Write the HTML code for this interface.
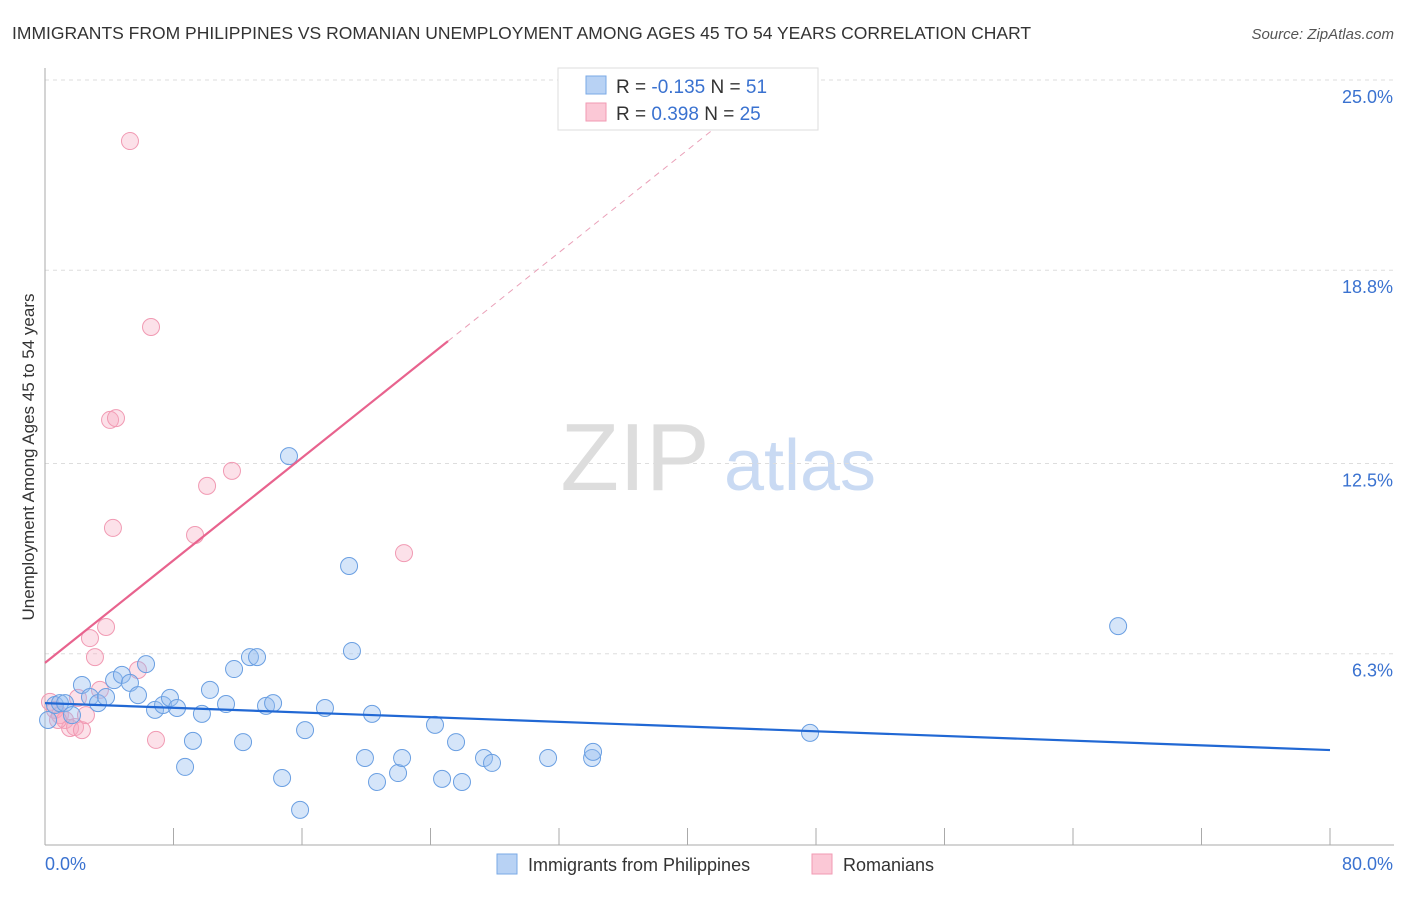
<!DOCTYPE html>
<html><head><meta charset="utf-8"><style>
body{margin:0;background:#fff;font-family:"Liberation Sans",sans-serif;}
svg text{font-family:"Liberation Sans",sans-serif;}
</style></head><body>
<svg id="chart" width="1406" height="892">
<text x="12" y="39" font-size="17.5" fill="#333">IMMIGRANTS FROM PHILIPPINES VS ROMANIAN UNEMPLOYMENT AMONG AGES 45 TO 54 YEARS CORRELATION CHART</text>
<text x="1394" y="39" font-size="15" fill="#555" font-style="italic" text-anchor="end">Source: ZipAtlas.com</text>
<g>
<text x="635" y="490" font-size="96" fill="#ddd" font-family="Liberation Serif,serif" text-anchor="middle">ZIP</text>
<text x="800" y="490" font-size="72" fill="#c9daf3" text-anchor="middle">atlas</text>
</g>
<g id="grid"></g>
<g id="axes"></g>
<g id="marks"></g>
<text transform="translate(34,457) rotate(-90)" font-size="17" fill="#333" text-anchor="middle">Unemployment Among Ages 45 to 54 years</text>
<g>
<rect x="558" y="68" width="260" height="62" fill="#fff" stroke="#ddd"/>
<rect x="586" y="76" width="20" height="18" fill="#b8d2f4" stroke="#7aa9e6"/>
<rect x="586" y="103" width="20" height="18" fill="#fbc8d6" stroke="#f19ab3"/>
<text x="616" y="93" font-size="19" fill="#333">R = <tspan fill="#3a72d0">-0.135</tspan>   N = <tspan fill="#3a72d0"> 51</tspan></text>
<text x="616" y="120" font-size="19" fill="#333">R =  <tspan fill="#3a72d0">0.398</tspan>   N = <tspan fill="#3a72d0">25</tspan></text>
</g>
<g>
<rect x="497" y="854" width="20" height="20" fill="#b8d2f4" stroke="#7aa9e6"/>
<text x="528" y="871" font-size="18" fill="#333">Immigrants from Philippines</text>
<rect x="812" y="854" width="20" height="20" fill="#fbc8d6" stroke="#f19ab3"/>
<text x="843" y="871" font-size="18" fill="#333">Romanians</text>
</g>
</svg>
<script>
const yTicks=[25.0,18.8,12.5,6.3];
const yTickLabels=["25.0%","18.8%","12.5%","6.3%"];
const xTickLabels=["0.0%","80.0%"];
const blueX=[0.19,0.62,0.93,1.25,1.68,2.30,2.80,3.30,3.80,4.30,4.79,5.29,5.79,6.29,6.85,7.35,7.78,8.22,9.21,8.72,9.77,10.27,11.27,11.77,12.33,12.76,13.20,13.76,14.20,14.76,15.19,15.88,16.19,17.43,18.93,19.11,19.92,20.36,20.67,21.98,22.23,24.28,24.72,25.59,25.96,27.33,27.83,31.32,34.06,34.12,47.63,66.81];
const blueY=[4.14,4.63,4.69,4.69,4.30,5.28,4.89,4.69,4.89,5.44,5.61,5.35,4.95,5.96,4.47,4.63,4.86,4.53,3.46,2.61,4.34,5.12,4.66,5.80,3.42,6.19,6.19,4.60,4.69,2.25,12.74,1.21,3.81,4.53,9.16,6.39,2.90,4.34,2.12,2.41,2.90,3.98,2.22,3.42,2.12,2.90,2.74,2.90,2.90,3.10,3.72,7.20];
const pinkX=[0.31,0.62,0.93,1.25,1.56,1.87,2.30,2.55,2.05,2.80,3.11,3.42,3.80,4.05,4.42,4.23,5.29,5.79,6.60,6.91,9.34,10.09,11.64,22.35,0.81];
const pinkY=[4.73,4.47,4.30,4.14,3.88,3.91,3.81,4.30,4.86,6.81,6.19,5.12,7.17,13.92,13.98,10.40,23.01,5.77,16.95,3.49,10.17,11.77,12.26,9.58,4.14];
const blueTrend=[4.69,3.16];
const pinkTrend=[6.0,0.418];
const X0=45,X1=1330,Y0=847,PXPER=30.68;
const sx=v=>X0+(v/80)*(X1-X0);
const sy=v=>Y0-v*PXPER;
const NS="http://www.w3.org/2000/svg";
function mk(t,a,p){const e=document.createElementNS(NS,t);for(const k in a)e.setAttribute(k,a[k]);p.appendChild(e);return e;}
const grid=document.getElementById('grid'),axes=document.getElementById('axes'),marks=document.getElementById('marks');
yTicks.forEach((v,i)=>{
 const l=mk('line',{x1:45,x2:1394,y1:sy(v),y2:sy(v),stroke:'#ddd','stroke-dasharray':'4,4'},grid);
 
 
 const t=mk('text',{x:1393,y:sy(v)+23,'font-size':18,fill:'#3a72d0','text-anchor':'end'},grid);
 t.textContent=yTickLabels[i];
 
 
});
const ya=mk('line',{x1:45,x2:45,y1:68,y2:845,stroke:'#aaa'},axes);


const xa=mk('line',{x1:45,x2:1394,y1:845,y2:845,stroke:'#aaa'},axes);


for(let i=0;i<=10;i++){
 const tk=mk('line',{x1:sx(i*8),x2:sx(i*8),y1:828,y2:845,stroke:'#aaa'},axes);
 
 
}
[[0,'start',45],[80,'end',1393]].forEach((d,i)=>{
 const t=mk('text',{x:d[2],y:870,'font-size':18,fill:'#3a72d0','text-anchor':d[1]},axes);
 t.textContent=xTickLabels[i];
 
 
});
pinkX.forEach((x,i)=>{
 const c=mk('circle',{cx:sx(x),cy:sy(pinkY[i]),r:8.5,fill:'rgba(246,168,192,0.35)',stroke:'#f19ab3','stroke-width':1},marks);
 
 
});
blueX.forEach((x,i)=>{
 const c=mk('circle',{cx:sx(x),cy:sy(blueY[i]),r:8.5,fill:'rgba(150,190,240,0.4)',stroke:'#6a9fe2','stroke-width':1},marks);
 
 
});
const bt=mk('line',{x1:sx(0),y1:sy(blueTrend[0]),x2:sx(80),y2:sy(blueTrend[1]),stroke:'#2168d4','stroke-width':2.2},marks);


const pa=25.09,pb=42.96;
const pt=mk('line',{x1:sx(0),y1:sy(pinkTrend[0]),x2:sx(pa),y2:sy(pinkTrend[0]+pinkTrend[1]*pa),stroke:'#e8638e','stroke-width':2.2},marks);


const pd=mk('line',{x1:sx(pa),y1:sy(pinkTrend[0]+pinkTrend[1]*pa),x2:sx(pb),y2:sy(pinkTrend[0]+pinkTrend[1]*pb),stroke:'#eaa0b8','stroke-width':1,'stroke-dasharray':'6,5'},marks);


</script>
</body></html>
